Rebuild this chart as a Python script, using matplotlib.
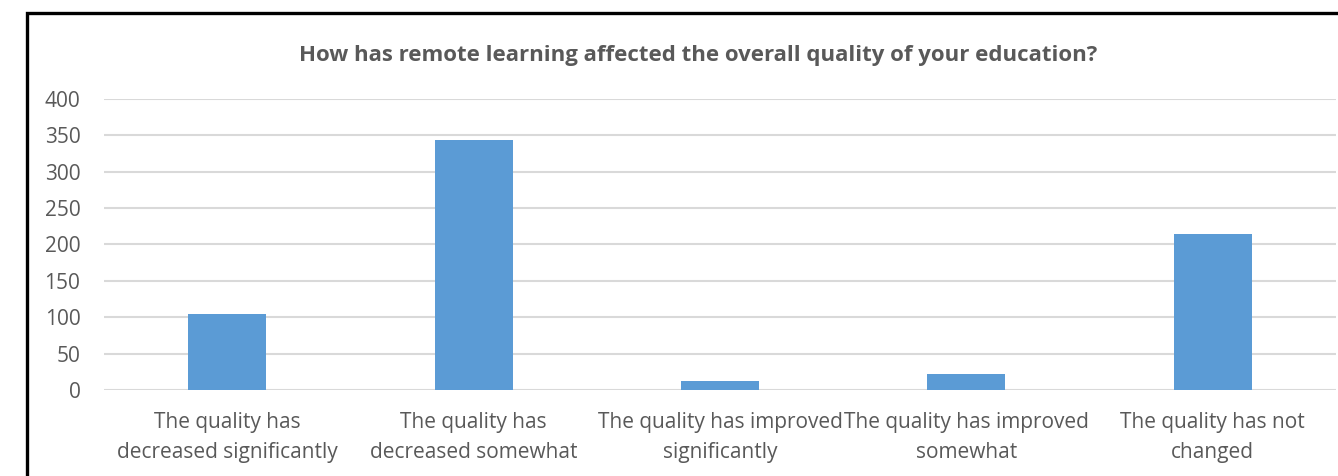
import matplotlib
matplotlib.use("Agg")
import matplotlib.pyplot as plt
from matplotlib.patches import Rectangle

categories = [
    "The quality has\ndecreased significantly",
    "The quality has\ndecreased somewhat",
    "The quality has improved\nsignificantly",
    "The quality has improved\nsomewhat",
    "The quality has not\nchanged",
]
values = [104, 344, 12, 22, 214]
yticks = [0, 50, 100, 150, 200, 250, 300, 350, 400]
title = "How has remote learning affected the overall quality of your education?"

W, H = 1338, 476
DPI = 100
plt.rcParams['font.family'] = ['Open Sans', 'DejaVu Sans']
TXT = '#595959'
GRID = '#D9D9D9'
BAR = '#5B9BD5'

fig = plt.figure(figsize=(W / DPI, H / DPI), dpi=DPI)
fig.patch.set_facecolor('white')
ax = fig.add_axes([104 / W, 1 - 390 / H, (1336 - 104) / W, (390 - 99) / H])

x = list(range(len(categories)))
ax.bar(x, values, width=0.316, color=BAR, zorder=3)
ax.set_xlim(-0.5, len(categories) - 0.5)
ax.set_ylim(0, 400)
ax.set_yticks(yticks)
ax.set_xticks(x)
ax.set_xticklabels(categories, fontsize=15, color=TXT, linespacing=1.52)
ax.tick_params(axis='y', length=0, pad=17, labelsize=15, labelcolor=TXT)
ax.tick_params(axis='x', length=0, pad=16)
ax.grid(axis='y', color=GRID, linewidth=1.5, zorder=0)
for s in ax.spines.values():
    s.set_visible(False)

fig.text(698 / W, 1 - 61.5 / H, title, ha='center', va='baseline',
         fontsize=16, fontweight='bold', color=TXT)

fig.patches.append(Rectangle((27 / W, -0.1), 1.2, 1 - 13 / H + 0.1,
                             transform=fig.transFigure, fill=False,
                             edgecolor='black', linewidth=2.4, clip_on=False))

fig.savefig('out.png', dpi=DPI)
